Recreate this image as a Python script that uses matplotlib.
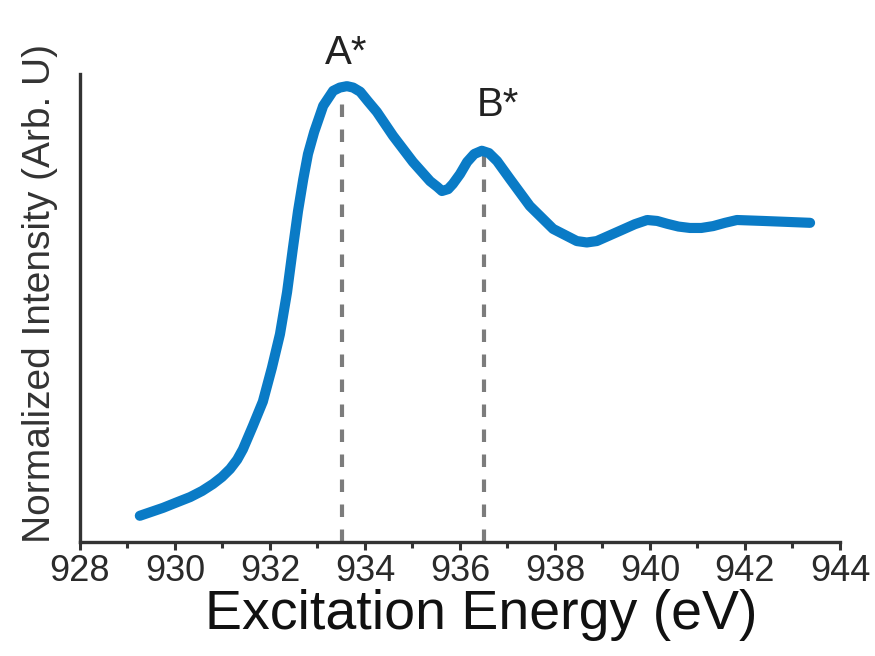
import matplotlib.pyplot as plt
import numpy as np

# Spectrum (energy in eV, normalized intensity)
energy = [929.26, 929.75, 930.02, 930.32, 930.57, 930.80, 930.99, 931.16,
          931.31, 931.43, 931.64, 931.85,
          932.04, 932.21, 932.36, 932.48, 932.59, 932.70, 932.80, 932.93,
          933.12, 933.33, 933.47, 933.62, 933.75, 933.90, 934.06, 934.25,
          934.59, 935.01, 935.37, 935.52, 935.62, 935.75, 935.85, 936.00,
          936.15, 936.30, 936.46, 936.61, 936.78, 937.05, 937.47, 937.96,
          938.46, 938.67, 938.88, 939.37, 939.68, 939.94, 940.15, 940.36,
          940.60, 940.84, 941.08, 941.33, 941.58, 941.83, 942.38, 942.88,
          943.37]
intensity = [0.056, 0.073, 0.084, 0.096, 0.109, 0.124, 0.139, 0.156,
             0.176, 0.198, 0.248, 0.300,
             0.372, 0.444, 0.534, 0.626, 0.707, 0.775, 0.829, 0.876,
             0.932, 0.964, 0.971, 0.974, 0.971, 0.962, 0.942, 0.919,
             0.868, 0.812, 0.771, 0.759, 0.750, 0.754, 0.765, 0.786,
             0.812, 0.829, 0.836, 0.831, 0.814, 0.776, 0.718, 0.669,
             0.643, 0.640, 0.643, 0.665, 0.679, 0.688, 0.686, 0.680,
             0.674, 0.671, 0.671, 0.675, 0.682, 0.688, 0.686, 0.684,
             0.682]

peak_labels = ['A*', 'B*']
peak_energy = [933.52, 936.5]
peak_height = [0.968, 0.830]
label_x = [933.16, 936.36]
label_y = [1.021, 0.910]

xticks = np.arange(928, 945, 2)

plt.rcParams['font.family'] = ['Liberation Sans', 'DejaVu Sans']

fig = plt.figure(figsize=(8.75, 6.56), dpi=100)
ax = fig.add_axes([0.0914, 0.1738, 0.8686, 0.7134])

# Dashed markers under the two peaks
for e, h in zip(peak_energy, peak_height):
    ax.plot([e, e], [0, h], color='#7c7c7c', lw=3.0, ls=(0, (3, 3)),
            solid_capstyle='butt', zorder=1)

ax.plot(energy, intensity, color='#0a7bc6', lw=7.3, solid_capstyle='round',
        solid_joinstyle='round', zorder=2)

# Peak labels
for lab, x, y in zip(peak_labels, label_x, label_y):
    ax.text(x, y, lab, fontsize=29, ha='left', va='baseline', color='#222222')

ax.set_xlim(928, 944)
ax.set_ylim(0, 1)
ax.set_xticks(xticks)
ax.set_xticks(np.arange(929, 944, 2), minor=True)
ax.set_yticks([])
ax.tick_params(axis='x', which='major', length=5.5, width=2.2, color='#333333',
               labelsize=26, pad=3, labelcolor='#2a2a2a')
ax.tick_params(axis='x', which='minor', length=4.5, width=2.2, color='#333333')

for side in ['top', 'right']:
    ax.spines[side].set_visible(False)
for side in ['left', 'bottom']:
    ax.spines[side].set_linewidth(2.4)
    ax.spines[side].set_color('#333333')

ax.set_xlabel('Excitation Energy (eV)', fontsize=40, color='#111111')
ax.xaxis.set_label_coords(0.528, -0.10)
ax.set_ylabel('Normalized Intensity (Arb. U)', fontsize=28, color='#333333')
ax.yaxis.set_label_coords(-0.029, 0.53)

plt.savefig('out.png', dpi=100)
